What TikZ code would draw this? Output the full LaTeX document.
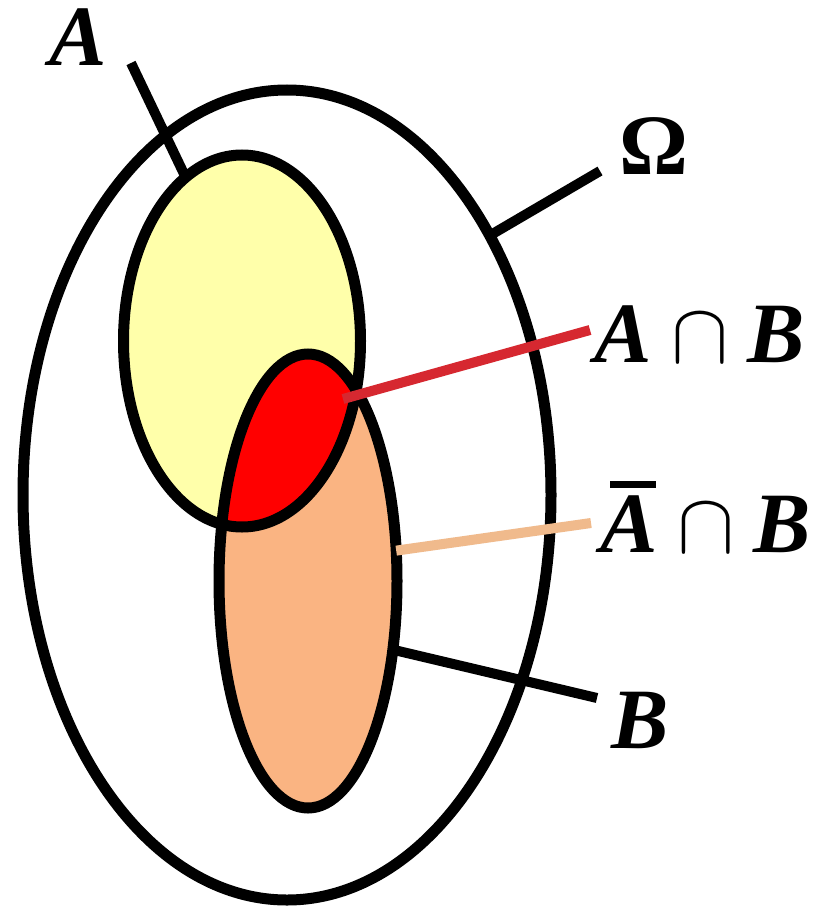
\RequirePackage{fix-cm}
\documentclass[tikz,border=0pt]{standalone}
\usepackage{fontspec}
\setmainfont{Liberation Serif}
\usetikzlibrary{shapes.geometric}
\definecolor{ayellow}{RGB}{255,255,170}
\definecolor{bpeach}{RGB}{250,180,130}
\definecolor{abred}{RGB}{255,0,0}
\definecolor{redline}{RGB}{214,40,48}
\definecolor{peachline}{RGB}{240,186,140}
\newcommand{\bi}[1]{\textbf{\textit{#1}}}
\newcommand{\barA}{\hbox{\rlap{\kern 9pt\raise 64pt\hbox{\vrule width 46pt height 7pt depth 0pt}}\bi{A}}}
\begin{document}
\begin{tikzpicture}[x=1pt,y=-1pt,
  outline/.style={draw=black,line width=11pt},
  setshape/.style={ellipse,inner sep=0pt,outer sep=0pt},
  pointer/.style={line width=10pt},
  lbl/.style={inner sep=0pt,anchor=base,font=\fontsize{86}{96}\selectfont}]
\useasboundingbox (0,0) rectangle (817,912);
\fill[white] (0,0) rectangle (817,912);
% universe
\node[setshape,outline,fill=white,minimum width=528pt,minimum height=810pt] (Omega) at (287,495) {};
% fills
\fill[ayellow] (242,341) ellipse [x radius=118.5, y radius=186];
\fill[bpeach] (308,581) ellipse [x radius=89, y radius=227];
\begin{scope}
  \clip (242,341) ellipse [x radius=118.5, y radius=186];
  \fill[abred] (308,581) ellipse [x radius=89, y radius=227];
\end{scope}
% outlines
\node[setshape,outline,minimum width=237pt,minimum height=372pt] (A) at (242,341) {};
\node[setshape,outline,minimum width=178pt,minimum height=454pt] (B) at (308,581) {};
% labels
\node[lbl,text height=58pt,text depth=0pt] (lA) at (78,66) {\bi{A}};
\node[lbl] (lOmega) at (654,175) {\textbf{Ω}};
\node[lbl] (lAB) at (700,362) {$\bi{A}\cap\bi{B}$};
\node[lbl] (lnAB) at (706,552) {$\barA\cap\bi{B}$};
\node[lbl] (lB) at (640,748) {\bi{B}};
% pointers
\coordinate (Atip) at (131,63);
\coordinate (Otip) at (600,171);
\coordinate (Btip) at (597,698);
\coordinate (nABtip) at (591,523);
\coordinate (ABin) at (343,399);
\coordinate (ABtip) at (590,330);
\draw[pointer] (Atip) -- (A.109);
\draw[pointer] (Omega.52) -- (Otip);
\draw[pointer] (B.-39) -- (Btip);
\draw[pointer,peachline] (B.19) -- (nABtip);
\draw[pointer,redline] (ABin) -- (ABtip);
\end{tikzpicture}
\end{document}
